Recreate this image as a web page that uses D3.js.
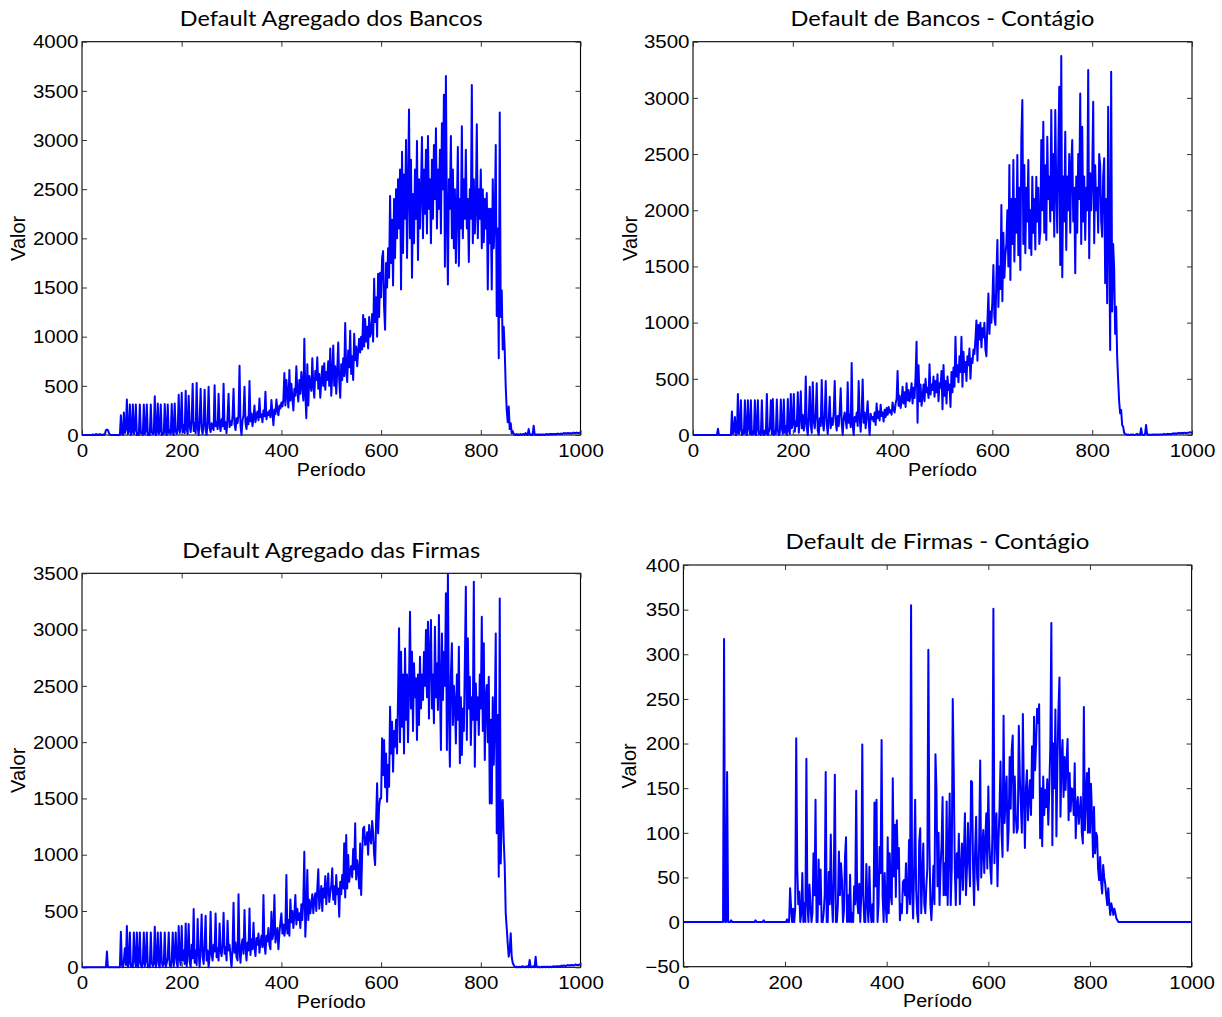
<!DOCTYPE html>
<html><head><meta charset="utf-8">
<script src="https://cdn.jsdelivr.net/npm/d3@7"></script>
<style>body{margin:0;background:#fff}svg{display:block}</style>
</head><body>
<script>
// ---------------- DATA ----------------
const titles = ["Default Agregado dos Bancos", "Default de Bancos - Contágio", "Default Agregado das Firmas", "Default de Firmas - Contágio"];
const xLabel = "Período";
const yLabel = "Valor";
const xTicks = [0, 200, 400, 600, 800, 1000];
const yTicksBancosAgregado = [0, 500, 1000, 1500, 2000, 2500, 3000, 3500, 4000];
const yTicksBancosContagio = [0, 500, 1000, 1500, 2000, 2500, 3000, 3500];
const yTicksFirmasAgregado = [0, 500, 1000, 1500, 2000, 2500, 3000, 3500];
const yTicksFirmasContagio = [-50, 0, 50, 100, 150, 200, 250, 300, 350, 400];
const periodStep = 2; // one value every 2 periods, 0..1000

const bancosAgregado = [
0,0,0,0,0,0,0,0,0,0,
0,5,0,0,10,0,5,0,10,0,
0,5,0,10,50,55,50,20,5,0,
0,0,0,0,0,0,0,0,0,200,
10,0,230,20,60,360,10,40,310,0,
30,310,10,50,310,0,20,0,310,20,
30,0,310,10,40,310,0,20,0,310,
30,10,20,395,0,30,320,10,40,310,
0,20,10,315,30,0,310,20,50,10,
315,30,0,320,40,10,60,410,20,80,
430,30,100,20,450,60,10,400,90,30,
150,520,40,120,20,530,80,0,150,470,
60,10,110,460,50,0,140,490,70,30,
120,80,50,505,90,130,60,420,100,40,
160,90,520,60,130,20,180,420,80,140,
100,190,470,110,50,170,120,200,705,90,
0,150,200,490,120,60,180,110,550,140,
220,90,170,300,130,200,240,150,370,180,
210,130,250,190,440,160,230,200,250,180,
355,220,100,260,210,360,250,200,300,270,
330,290,360,630,300,560,410,280,660,350,
520,380,250,470,400,700,450,340,560,420,
640,500,350,980,420,170,720,300,600,520,
450,780,500,380,650,560,790,470,620,380,
550,700,500,730,460,640,560,750,500,880,
400,620,910,500,700,420,650,940,560,380,
720,560,780,600,1140,650,540,860,690,1060,
620,800,560,1030,760,900,700,850,980,840,
1000,870,1220,900,1180,950,1100,880,1200,1000,
1050,1230,950,1590,1150,1400,1000,1640,1200,1650,
1400,1800,1870,1300,1070,1750,1500,1900,1600,2430,
1750,2190,1520,2400,1800,2500,2000,2600,2100,2700,
1480,2880,1850,2650,2200,3000,1800,2500,3310,2000,
2800,1600,2450,1950,2700,2200,2990,1780,2600,2100,
2500,3030,2000,2700,2250,2900,2050,3040,2300,2600,
1950,2800,2200,2950,2400,3120,2100,2700,2300,2900,
2050,3170,2500,3460,1710,3650,2200,1530,2600,2300,
3040,2000,2700,1900,2500,1750,2300,2930,1720,2400,
2100,3140,2000,2600,2200,2900,2100,2400,1760,2500,
2200,3560,1950,2600,2050,2300,3160,2000,2500,2200,
2700,1900,2500,1960,2400,2100,2460,1480,2300,1950,
2300,1480,2600,1900,2200,2950,1210,2100,780,3280,
1200,1470,870,1100,860,490,250,130,290,60,
120,20,40,10,5,0,10,0,5,0,
10,0,5,10,0,20,5,0,60,10,
0,5,0,95,10,0,5,0,5,0,
5,0,5,5,0,5,10,5,5,10,
5,10,5,10,10,5,10,15,10,10,
15,10,15,20,15,20,15,20,20,15,
20,15,20,25,20,20,25,20,20,25,
20];

const bancosContagio = [
0,0,0,0,0,0,0,0,0,0,
0,0,0,0,0,0,0,0,0,0,
0,0,0,0,0,55,0,0,0,0,
0,0,0,0,0,0,0,0,0,210,
10,30,160,0,20,365,10,50,310,0,
40,10,310,20,0,310,60,10,310,0,
30,10,310,0,50,310,10,20,0,310,
20,0,40,10,365,0,30,60,310,10,
320,0,30,10,315,40,0,20,315,60,
10,315,20,80,0,320,40,10,365,60,
100,365,30,120,80,380,20,150,390,60,
180,40,110,520,70,0,160,430,90,20,
470,130,60,190,460,40,0,150,80,490,
120,40,180,480,100,10,140,340,60,150,
90,200,480,120,40,170,80,210,415,100,
0,150,200,130,60,470,110,180,70,640,
90,0,160,120,200,80,480,150,30,190,
495,110,200,60,170,300,120,0,190,140,
160,120,200,90,280,150,210,130,270,170,
200,120,225,160,240,180,250,200,220,180,
290,230,200,280,320,570,260,350,240,300,
430,280,380,250,460,310,400,300,350,460,
280,420,330,520,830,110,620,300,450,260,
340,450,300,500,380,420,330,630,360,450,
400,520,340,480,380,540,300,460,420,570,
230,623,350,480,280,520,400,450,250,560,
380,600,430,875,520,620,470,700,560,875,
430,740,560,650,480,700,620,770,500,680,
640,760,720,850,1020,660,980,850,1000,780,
950,870,1000,760,700,1000,1260,900,1100,1000,
1200,1513,1050,980,1400,1735,1140,1500,1300,2047,
1190,1800,1400,1600,1700,2000,1500,2403,1380,2100,
1700,2447,1543,2100,1800,2492,1600,2200,1468,2634,
2981,1700,2403,1617,2200,1900,2447,1661,2000,1602,
2299,1800,2100,1650,2299,1900,2200,1700,1810,2625,
2000,2788,1800,2400,1735,2655,2100,2300,1900,2892,
2000,2500,1765,2892,2200,1800,2500,3100,1513,3373,
1403,2300,1900,2699,1646,2300,2000,2500,1800,2400,
2625,1900,2200,1439,2300,1800,2500,2100,3040,1700,
2744,1900,2300,1735,2200,2000,3248,1572,2329,2000,
2300,2966,1706,2400,2000,2200,1800,2500,2403,1900,
1765,2300,2462,1350,2100,1172,2922,1800,757,3233,
1100,1700,1483,900,1142,700,490,300,193,223,
90,74,20,10,5,0,5,0,0,5,
0,5,0,0,5,10,0,5,0,60,
5,0,0,10,90,5,0,5,0,0,
5,0,5,0,5,5,0,5,5,5,
5,5,10,5,5,10,5,10,10,5,
10,15,10,15,10,15,15,20,15,15,
20,15,20,20,15,20,20,20,25,20,
20];

const firmasAgregado = [
0,0,0,0,0,0,0,0,0,0,
0,0,0,0,0,0,0,0,0,0,
0,0,0,0,0,140,0,0,0,0,
0,0,0,0,0,0,0,0,0,316,
20,0,60,170,20,366,0,40,310,10,
30,0,310,60,10,310,0,50,310,20,
0,40,310,10,60,310,0,20,0,310,
40,10,30,360,0,60,310,20,0,310,
50,10,30,310,0,40,80,310,20,0,
60,310,10,100,310,40,0,366,80,20,
366,60,150,30,390,10,120,384,50,0,
200,80,517,40,150,20,429,130,0,180,
470,90,30,200,458,60,150,0,100,494,
120,60,200,140,479,90,170,60,390,150,
100,200,485,120,180,60,414,150,200,100,
0,170,574,130,220,90,60,648,150,40,
200,250,120,509,180,60,220,150,523,110,
250,160,396,180,100,260,200,300,130,220,
280,180,642,200,120,280,230,350,200,160,
494,250,300,642,220,280,350,160,300,400,
479,300,380,280,350,820,300,420,280,603,
400,500,350,460,642,380,520,420,480,350,
560,420,600,1027,272,500,864,420,600,480,
560,650,480,600,657,500,700,870,520,620,
722,500,700,620,811,560,700,834,580,660,
720,879,600,720,560,820,650,700,450,760,
650,820,700,1101,620,1175,700,997,760,850,
900,800,1050,870,1279,780,950,870,700,1100,
642,1000,1234,1249,1086,1100,1200,1000,1264,1150,
1100,1300,1200,1000,908,1300,1634,1190,1427,1500,
1500,2034,1708,2019,1600,1900,1471,1800,1604,2315,
1900,2182,1738,2100,1960,2200,1900,2400,3011,2000,
2804,2137,2600,1900,2833,2200,2600,2000,2500,3159,
2300,2804,2100,2700,2400,2567,2019,2600,2152,2759,
2300,2600,2374,2800,2500,2996,2400,3070,2211,2800,
3085,2300,2600,2167,3026,2400,2700,2285,3129,2500,
1930,2966,2374,2800,2500,3322,1930,3493,2300,1782,
2600,2878,2152,2500,2344,1989,2600,2200,2848,1812,
2400,1886,2300,2100,2700,3381,2019,2922,2300,2581,
1975,2400,2200,3425,1782,2522,2200,2400,2063,2600,
2300,3115,2100,2878,1841,2400,2508,2000,2581,1456,
2200,1456,2400,1800,2200,2966,1190,2241,805,3277,
923,1400,1486,1131,900,479,350,213,94,150,
302,94,40,20,5,0,5,0,0,5,
0,5,10,0,5,0,10,5,0,65,
5,0,5,10,0,94,5,0,5,0,
0,5,0,5,5,0,5,5,0,5,
5,0,5,10,5,5,10,5,10,10,
10,15,10,15,15,10,15,20,15,20,
15,20,20,15,20,25,20,20,20,25,
20];

const firmasContagio = [
0,0,0,0,0,0,0,0,0,0,
0,0,0,0,0,0,0,0,0,0,
0,0,0,0,0,0,0,0,0,0,
0,0,0,0,0,0,0,0,0,0,
317,0,0,168,0,0,0,2,0,0,
0,0,0,0,0,0,0,0,0,0,
0,0,0,0,0,0,0,0,0,0,
0,2,0,0,0,0,0,0,0,2,
0,0,0,0,0,0,0,0,0,0,
0,0,0,0,0,0,0,0,0,0,
0,0,3,0,0,38,15,0,15,0,
15,206,60,20,34,0,10,55,0,21,
0,183,21,0,42,20,0,10,77,30,
137,0,0,70,20,59,0,0,10,30,
168,0,0,56,20,98,28,0,50,165,
0,0,20,79,30,66,47,0,13,73,
95,0,30,0,53,0,10,0,40,20,
147,25,10,43,0,30,199,30,0,0,
65,21,0,62,15,0,20,0,134,40,
137,0,20,84,55,204,30,0,55,20,
0,95,10,77,30,20,161,51,109,28,
114,60,83,2,20,10,45,47,30,66,
10,30,92,20,355,36,4,60,137,36,
10,0,90,105,10,50,88,20,10,40,
60,305,92,20,2,30,63,20,188,148,
40,100,19,60,88,140,30,66,30,135,
19,80,144,19,60,250,165,60,19,77,
50,99,20,60,88,36,80,122,30,60,
111,70,40,158,157,60,19,80,118,50,
36,90,181,50,80,103,55,90,122,60,
152,90,60,43,100,351,66,100,122,40,
90,127,180,100,73,231,111,140,163,80,
103,185,127,193,209,100,163,120,100,105,
220,163,130,100,233,140,83,150,170,114,
140,159,120,197,139,230,170,200,239,223,
244,94,150,85,163,120,148,129,160,109,
150,197,335,86,200,150,238,96,180,238,
274,118,180,204,140,185,148,180,205,114,
167,124,150,148,120,178,94,130,140,110,
124,140,100,88,241,103,140,167,100,172,
100,155,120,73,129,77,100,96,60,47,
73,45,32,64,50,43,30,19,38,20,
8,21,15,8,15,10,4,2,0,0,
0,0,0,0,0,0,0,0,0,0,
0,0,0,0,0,0,0,0,0,0,
0,0,0,0,0,0,0,0,0,0,
0,0,0,0,0,0,0,0,0,0,
0,0,0,0,0,0,0,0,0,0,
0,0,0,0,0,0,0,0,0,0,
0,0,0,0,0,0,0,0,0,0,
0];

// ---------------- DRAWING ----------------
const W = 1222, H = 1017;
const svg = d3.select("body").append("svg").attr("width", W).attr("height", H);

const tickFont = '"Liberation Sans", Arial, Helvetica, sans-serif';
const titleFont = 'Lato, "Noto Sans", sans-serif';
const lineColor = "#0000ff";

function stretchText(sel, factor) {
  sel.each(function () {
    const w = this.getComputedTextLength();
    if (w > 0) {
      this.setAttribute("textLength", (w * factor).toFixed(2));
      this.setAttribute("lengthAdjust", "spacingAndGlyphs");
    }
  });
}

const panels = [
  { title: titles[0], values: bancosAgregado, yTicks: yTicksBancosAgregado, l: 82, r: 580.5, t: 41.7, b: 435, titleW: 303, yLabOff: 57 },
  { title: titles[1], values: bancosContagio, yTicks: yTicksBancosContagio, l: 693, r: 1192, t: 41.7, b: 435, titleW: 304, yLabOff: 56 },
  { title: titles[2], values: firmasAgregado, yTicks: yTicksFirmasAgregado, l: 82, r: 580.5, t: 573.3, b: 967.3, titleW: 298, yLabOff: 57 },
  { title: titles[3], values: firmasContagio, yTicks: yTicksFirmasContagio, l: 683.4, r: 1191.6, t: 565, b: 966.7, titleW: 304, yLabOff: 47 }
];

panels.forEach(p => {
  const x = d3.scaleLinear().domain([xTicks[0], xTicks[xTicks.length - 1]]).range([p.l, p.r]);
  const y = d3.scaleLinear().domain([p.yTicks[0], p.yTicks[p.yTicks.length - 1]]).range([p.b, p.t]);
  const g = svg.append("g");

  // box
  g.append("rect")
    .attr("x", p.l).attr("y", p.t)
    .attr("width", p.r - p.l).attr("height", p.b - p.t)
    .attr("fill", "none").attr("stroke", "#000").attr("stroke-width", 1.1);

  // mirrored inward ticks
  const tickColor = "#333";
  const bottom = g.append("g").attr("transform", `translate(0,${p.b})`)
    .call(d3.axisBottom(x).tickValues(xTicks).tickSizeInner(-5).tickSizeOuter(0).tickFormat(d3.format("d")));
  const top = g.append("g").attr("transform", `translate(0,${p.t})`)
    .call(d3.axisTop(x).tickValues(xTicks).tickSizeInner(-5).tickSizeOuter(0).tickFormat(""));
  const left = g.append("g").attr("transform", `translate(${p.l},0)`)
    .call(d3.axisLeft(y).tickValues(p.yTicks).tickSizeInner(-5).tickSizeOuter(0).tickFormat(d3.format("d")));
  const right = g.append("g").attr("transform", `translate(${p.r},0)`)
    .call(d3.axisRight(y).tickValues(p.yTicks).tickSizeInner(-5).tickSizeOuter(0).tickFormat(""));
  [bottom, top, left, right].forEach(a => {
    a.select(".domain").remove();
    a.selectAll(".tick line").attr("stroke", tickColor).attr("stroke-width", 1);
    a.attr("font-family", null).attr("font-size", null);
  });

  bottom.selectAll(".tick text")
    .attr("y", 22).attr("dy", null)
    .attr("fill", "#000").style("font-family", tickFont).style("font-size", "17.5px")
    .attr("text-anchor", "middle");
  left.selectAll(".tick text")
    .attr("x", -3.5).attr("dy", null).attr("y", 6.2)
    .attr("fill", "#000").style("font-family", tickFont).style("font-size", "17.5px")
    .attr("text-anchor", "end");
  stretchText(bottom.selectAll(".tick text"), 1.17);
  stretchText(left.selectAll(".tick text"), 1.17);

  // data line
  const line = d3.line()
    .x((d, i) => x(i * periodStep))
    .y(d => y(d));
  g.append("path").datum(p.values)
    .attr("d", line)
    .attr("fill", "none")
    .attr("stroke", lineColor)
    .attr("stroke-width", 2)
    .attr("stroke-linejoin", "round");

  // title
  const tt = g.append("text")
    .attr("x", (p.l + p.r) / 2).attr("y", p.t - 15.7)
    .attr("text-anchor", "middle")
    .style("font-family", titleFont).style("font-size", "21px")
    .attr("fill", "#000")
    .text(p.title);
  tt.attr("textLength", p.titleW).attr("lengthAdjust", "spacingAndGlyphs");

  // x label
  const xl = g.append("text")
    .attr("x", (p.l + p.r) / 2).attr("y", p.b + 40.5)
    .attr("text-anchor", "middle")
    .style("font-family", tickFont).style("font-size", "17.5px")
    .attr("fill", "#000")
    .text(xLabel);
  xl.attr("textLength", 69).attr("lengthAdjust", "spacingAndGlyphs");

  // y label
  g.append("text")
    .attr("transform", `translate(${p.l - p.yLabOff},${(p.t + p.b) / 2}) rotate(-90)`)
    .attr("text-anchor", "middle")
    .style("font-family", tickFont).style("font-size", "20px")
    .attr("fill", "#000")
    .text(yLabel);
});
</script>
</body></html>
